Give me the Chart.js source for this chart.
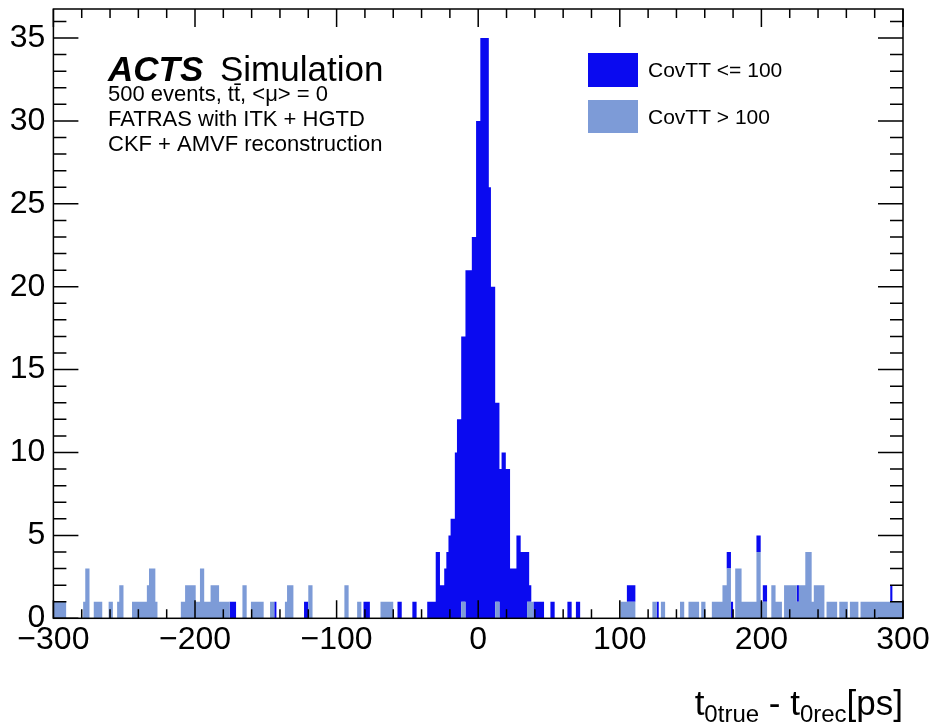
<!DOCTYPE html>
<html><head><meta charset="utf-8">
<script src="https://cdn.jsdelivr.net/npm/chart.js@4/dist/chart.umd.min.js"></script>
<style>html,body{margin:0;padding:0;background:#fff;} #wrap{width:935px;height:726px;position:relative;}</style>
</head><body><div id="wrap"><canvas id="c" width="935" height="726"></canvas></div>
<script>
// ---- histogram definition ----
const xMin = -300, xMax = 300, binWidth = 1.5, nBins = 400;
const yMax = 36.75;
const xTickValues = [-300, -200, -100, 0, 100, 200, 300];
const yTickValues = [0, 5, 10, 15, 20, 25, 30, 35];
const seriesNames = ['CovTT <= 100', 'CovTT > 100'];

// CovTT > 100 (drawn at bottom of stack): runs of bins [start, end] with count
const lightStart = [0,14,15,19,26,30,31,37,44,45,48,60,62,67,69,71,74,78,89,93,102,109,110,120,137,143,154,192,208,223,267,282,286,295,299,305,310,315,317,321,324,331,333,338,340,344,350,351,354,357,358,364,370,375,380,395];
const lightEnd   = [5,14,16,22,27,30,32,43,44,47,48,61,66,68,70,73,77,82,90,98,103,109,112,121,138,144,159,193,209,225,273,283,287,296,303,306,314,316,318,323,330,332,335,339,342,349,350,353,356,357,362,368,373,378,394,399];
const lightCount = [1,1,3,1,1,1,2,1,2,3,1,1,2,1,3,1,2,1,2,1,1,1,2,2,2,1,1,1,1,1,1,1,1,1,1,1,1,2,3,3,1,4,1,2,1,2,1,2,4,1,2,1,1,1,1,1];

// CovTT <= 100 (stacked on top)
const darkStart = [83,104,118,146,162,169,176,180,182,184,185,186,187,189,190,192,194,197,199,201,205,206,208,210,211,213,215,218,220,223,224,226,234,242,246,270,284,317,319,331,334,350,394];
const darkEnd   = [85,104,119,148,163,170,179,181,183,184,185,186,188,189,191,193,196,198,200,204,205,207,209,210,212,214,217,219,222,223,224,230,235,243,247,273,284,318,319,332,335,350,394];
const darkCount = [1,1,1,1,1,1,1,4,2,3,4,5,6,10,12,16,21,23,30,35,26,20,12,9,10,9,3,5,4,3,1,1,1,1,1,1,1,1,1,1,1,1,1];

const darkColor = '#0a0af0';
const lightColor = '#7d9bd7';
const FONT = '"Liberation Sans", Arial, Helvetica, sans-serif';

function expand(starts, ends, counts) {
  const a = new Array(nBins).fill(0);
  for (let k = 0; k < starts.length; k++) {
    for (let i = starts[k]; i <= ends[k]; i++) a[i] = counts[k];
  }
  return a;
}
// histogram as step points: bin centres plus the two outer edges
function histPoints(counts) {
  const pts = [{x: xMin, y: counts[0]}];
  counts.forEach((c, i) => pts.push({x: xMin + (i + 0.5) * binWidth, y: c}));
  pts.push({x: xMax, y: counts[nBins - 1]});
  return pts;
}
const lightData = histPoints(expand(lightStart, lightEnd, lightCount));
const darkData = histPoints(expand(darkStart, darkEnd, darkCount));

const rootPlugin = {
  id: 'rootStyle',
  afterDatasetsDraw(chart) {
    const {ctx, chartArea: a, scales} = chart;
    ctx.save();
    ctx.strokeStyle = '#000';
    ctx.lineWidth = 1.5;
    ctx.beginPath();
    for (let v = xMin; v <= xMax; v += 20) {
      const x = scales.x.getPixelForValue(v);
      const L = (v % 100 === 0) ? 18 : 9;
      ctx.moveTo(x, a.bottom); ctx.lineTo(x, a.bottom - L);
      ctx.moveTo(x, a.top); ctx.lineTo(x, a.top + L);
    }
    for (let v = 0; v <= 36; v += 1) {
      const y = scales.y.getPixelForValue(v);
      const L = (v % 5 === 0) ? 25 : 13;
      ctx.moveTo(a.left, y); ctx.lineTo(a.left + L, y);
      ctx.moveTo(a.right, y); ctx.lineTo(a.right - L, y);
    }
    ctx.stroke();
    ctx.strokeRect(a.left, a.top, a.right - a.left, a.bottom - a.top);
    ctx.restore();
  },
  afterDraw(chart) {
    const ctx = chart.ctx;
    ctx.save();
    ctx.fillStyle = '#000';
    ctx.textBaseline = 'alphabetic';
    ctx.textAlign = 'left';
    // ACTS Simulation label
    ctx.font = 'italic bold 35px ' + FONT;
    ctx.fillText('ACTS', 108, 81);
    ctx.font = '35px ' + FONT;
    ctx.fillText('Simulation', 220, 81);
    ctx.font = '22px ' + FONT;
    // "500 events, t t-bar, <mu> = 0" with an overline on the second t
    const p1 = '500 events, t', p2 = 't', p3 = ', <\u03bc> = 0';
    let tx = 108;
    ctx.fillText(p1, tx, 101); tx += ctx.measureText(p1).width;
    const tw = ctx.measureText(p2).width;
    ctx.fillText(p2, tx, 101);
    ctx.fillRect(tx + 0.3, 83.4, tw + 0.4, 1.6);
    tx += tw;
    ctx.fillText(p3, tx, 101);
    ctx.fillText('FATRAS with ITK + HGTD', 108, 126);
    ctx.fillText('CKF + AMVF reconstruction', 108, 151);
    // legend
    ctx.fillStyle = darkColor;
    ctx.fillRect(588, 53, 50, 34);
    ctx.fillStyle = lightColor;
    ctx.fillRect(588, 100, 50, 33);
    ctx.fillStyle = '#000';
    ctx.font = '21px ' + FONT;
    ctx.fillText(seriesNames[0], 648, 77);
    ctx.fillText(seriesNames[1], 648, 124);
    // x axis title: t_{0true} - t_{0rec}[ps], right aligned at frame right
    const parts = [
      {t: 't', f: '35px ' + FONT, dy: 0},
      {t: '0true', f: '24px ' + FONT, dy: 7},
      {t: ' - t', f: '35px ' + FONT, dy: 0},
      {t: '0rec', f: '24px ' + FONT, dy: 7},
      {t: '[ps]', f: '35px ' + FONT, dy: 0}
    ];
    let w = 0;
    parts.forEach(p => { ctx.font = p.f; p.w = ctx.measureText(p.t).width; w += p.w; });
    let x = chart.chartArea.right - w;
    const base = 715;
    parts.forEach(p => { ctx.font = p.f; ctx.fillText(p.t, x, base + p.dy); x += p.w; });
    ctx.restore();
  }
};

new Chart(document.getElementById('c').getContext('2d'), {
  type: 'line',
  data: {
    datasets: [
      {label: seriesNames[1], data: lightData, stepped: 'middle', fill: 'origin',
       backgroundColor: lightColor, borderColor: lightColor, borderWidth: 0, pointRadius: 0},
      {label: seriesNames[0], data: darkData, stepped: 'middle', fill: '-1',
       backgroundColor: darkColor, borderColor: darkColor, borderWidth: 0, pointRadius: 0}
    ]
  },
  options: {
    responsive: false,
    animation: false,
    devicePixelRatio: 1,
    layout: {padding: {top: 9, right: 32, left: 0, bottom: 0}},
    scales: {
      x: {
        type: 'linear', position: 'bottom', min: xMin, max: xMax, offset: false,
        grid: {display: false, drawTicks: false}, border: {display: false},
        afterBuildTicks: s => { s.ticks = xTickValues.map(v => ({value: v})); },
        ticks: {color: '#000', font: {family: FONT, size: 32}, padding: 3, autoSkip: false, maxRotation: 0,
          callback: v => v < 0 ? '\u2212' + Math.abs(v) : String(v)},
        afterFit: s => { s.height = 107.7; s.paddingLeft = 0; s.paddingRight = 0; }
      },
      y: {
        type: 'linear', min: 0, max: yMax, stacked: true,
        grid: {display: false, drawTicks: false}, border: {display: false},
        afterBuildTicks: s => { s.ticks = yTickValues.map(v => ({value: v})); },
        ticks: {color: '#000', font: {family: FONT, size: 32}, padding: 8},
        afterFit: s => { s.width = 53.4; s.paddingTop = 0; s.paddingBottom = 0; }
      }
    },
    plugins: {legend: {display: false}, tooltip: {enabled: false}, filler: {propagate: false}}
  },
  plugins: [rootPlugin]
});
</script>
</body></html>
